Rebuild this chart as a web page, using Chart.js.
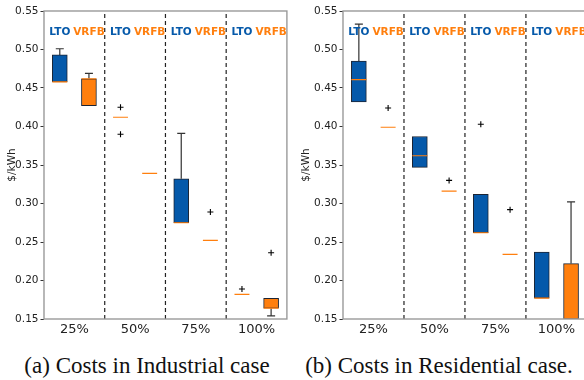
<!DOCTYPE html>
<html>
<head>
<meta charset="utf-8">
<script src="https://cdn.jsdelivr.net/npm/chart.js@4.4.1/dist/chart.umd.min.js"></script>
<style>
  html, body { margin: 0; padding: 0; background: #fff; width: 584px; height: 380px; overflow: hidden; }
  .panel { position: absolute; top: 0; height: 340px; }
  #p1 { left: 0; width: 292px; }
  #p2 { left: 292px; width: 300px; }
  .cap { position: absolute; top: 352px; width: 292px; text-align: center; font-family: "Liberation Serif", serif;
         font-size: 23px; line-height: 28px; color: #111; white-space: nowrap; }
</style>
</head>
<body>
<div class="panel" id="p1"><canvas id="c1" width="292" height="340"></canvas></div>
<div class="panel" id="p2"><canvas id="c2" width="300" height="340"></canvas></div>
<div class="cap" style="left:1px">(a) Costs in Industrial case</div>
<div class="cap" style="left:293px">(b) Costs in Residential case.</div>
<script>
// --- data: [lower whisker, Q1, median, Q3, upper whisker] per share ---
const groups = ['25%', '50%', '75%', '100%'];
const yTicks = [0.15, 0.20, 0.25, 0.30, 0.35, 0.40, 0.45, 0.50, 0.55];

const indLto = [[0.458, 0.458, 0.458, 0.493, 0.501], [0.412, 0.412, 0.412, 0.412, 0.412],
                [0.275, 0.275, 0.275, 0.332, 0.391], [0.182, 0.182, 0.182, 0.182, 0.182]];
const indLtoOut = [[], [0.425, 0.390], [], [0.189]];
const indVrfb = [[0.427, 0.427, 0.462, 0.462, 0.469], [0.339, 0.339, 0.339, 0.339, 0.339],
                 [0.252, 0.252, 0.252, 0.252, 0.252], [0.154, 0.164, 0.164, 0.177, 0.177]];
const indVrfbOut = [[], [], [0.289], [0.236]];

const resLto = [[0.432, 0.432, 0.461, 0.485, 0.533], [0.347, 0.347, 0.362, 0.387, 0.387],
                [0.262, 0.262, 0.262, 0.312, 0.312], [0.177, 0.177, 0.177, 0.237, 0.237]];
const resLtoOut = [[], [], [0.403], []];
const resVrfb = [[0.399, 0.399, 0.399, 0.399, 0.399], [0.316, 0.316, 0.316, 0.316, 0.316],
                 [0.234, 0.234, 0.234, 0.234, 0.234], [0.150, 0.150, 0.150, 0.222, 0.302]];
const resVrfbOut = [[0.424], [0.330], [0.292], []];

const BLUE = '#0559aa';
const ORANGE = '#ff7f0e';
const SHIFT = 0.24;      // box offset from group centre
const HALF_BOX = 0.123;  // half box width in axis units
const HALF_CAP = 0.066;

function series_datasets(stats, outliers, offset, color) {
    const boxes = [], whiskers = [], medians = [], fliers = [];
    stats.forEach(([lo, q1, med, q3, hi], i) => {
        const x = i + 1 + offset;
        if (q3 > q1) boxes.push({ x: x, y: [q1, q3] });
        if (hi > q3) {
            whiskers.push({ x: x, y: q3 }, { x: x, y: hi }, { x: x, y: null },
                          { x: x - HALF_CAP, y: hi }, { x: x + HALF_CAP, y: hi }, { x: x, y: null });
        }
        if (lo < q1) {
            whiskers.push({ x: x, y: q1 }, { x: x, y: lo }, { x: x, y: null },
                          { x: x - HALF_CAP, y: lo }, { x: x + HALF_CAP, y: lo }, { x: x, y: null });
        }
        medians.push({ x: x - HALF_BOX, y: med }, { x: x + HALF_BOX, y: med }, { x: x, y: null });
        outliers[i].forEach(v => fliers.push({ x: x, y: v }));
    });
    return [
        { type: 'bar', data: boxes, backgroundColor: color, borderColor: '#1c2433', borderWidth: 1,
          borderSkipped: false, barThickness: 15, grouped: false, order: 3 },
        { type: 'line', data: whiskers, borderColor: '#333', borderWidth: 1.2, pointRadius: 0,
          spanGaps: false, order: 4 },
        { type: 'line', data: medians, borderColor: ORANGE, borderWidth: 1.2, pointRadius: 0,
          spanGaps: false, order: 1 },
        { type: 'scatter', data: fliers, pointStyle: 'cross', pointRadius: 3, borderColor: '#000',
          borderWidth: 1.1, order: 0 }
    ];
}

const separators = [1.5, 2.5, 3.5].flatMap(x => [{ x: x, y: 0.15 }, { x: x, y: 0.55 }, { x: x, y: null }]);

const panel_plugin = {
    id: 'panelDecor',
    afterDraw(chart) {
        const { ctx, chartArea: a, scales: { x, y } } = chart;
        ctx.save();
        ctx.strokeStyle = '#9a9a9a';
        ctx.lineWidth = 1.4;
        ctx.strokeRect(a.left, a.top, a.right - a.left, a.bottom - a.top);
        ctx.font = 'bold 10.5px "DejaVu Sans"';
        ctx.textAlign = 'center';
        ctx.textBaseline = 'middle';
        const ty = y.getPixelForValue(0.523);
        groups.forEach((g, i) => {
            ctx.fillStyle = BLUE;
            ctx.fillText('LTO', x.getPixelForValue(i + 1 - SHIFT), ty);
            ctx.fillStyle = ORANGE;
            ctx.fillText('VRFB', x.getPixelForValue(i + 1 + SHIFT), ty);
        });
        ctx.restore();
    }
};

function draw_panel(canvas_id, lto, lto_out, vrfb, vrfb_out, axis_width, title_pad) {
    const ctx = document.getElementById(canvas_id).getContext('2d');
    return new Chart(ctx, {
        type: 'bar',
        data: {
            datasets: [
                ...series_datasets(lto, lto_out, -SHIFT, BLUE),
                ...series_datasets(vrfb, vrfb_out, SHIFT, ORANGE),
                { type: 'line', data: separators, borderColor: '#222', borderWidth: 1.2, borderDash: [4, 3],
                  pointRadius: 0, spanGaps: false, order: 5 }
            ]
        },
        options: {
            responsive: false,
            animation: false,
            events: [],
            layout: { padding: { top: 11, right: 5, left: 0, bottom: 0 } },
            plugins: { legend: { display: false }, tooltip: { enabled: false } },
            scales: {
                x: {
                    type: 'linear', min: 0.5, max: 4.5, offset: false,
                    grid: { display: false, drawTicks: false, offset: false },
                    border: { display: false },
                    afterBuildTicks: s => { s.ticks = groups.map((g, i) => ({ value: i + 1 })); },
                    afterFit: s => { s.height = 21; },
                    ticks: { padding: 3, color: '#222', font: { family: 'DejaVu Sans', size: 13 },
                             callback: v => groups[v - 1], maxRotation: 0 }
                },
                y: {
                    type: 'linear', min: 0.15, max: 0.55,
                    grid: { display: true, drawOnChartArea: false, drawTicks: true, tickLength: 3.5, color: '#333' },
                    border: { display: false },
                    afterBuildTicks: s => { s.ticks = yTicks.map(v => ({ value: v })); },
                    afterFit: s => { s.width = axis_width; },
                    ticks: { padding: 2, color: '#222', font: { family: 'DejaVu Sans', size: 10.5 },
                             callback: v => v.toFixed(2) },
                    title: { display: true, text: '$/kWh', color: '#222', padding: { top: title_pad },
                             font: { family: 'DejaVu Sans', size: 10.5 } }
                }
            }
        },
        plugins: [panel_plugin]
    });
}

draw_panel('c1', indLto, indLtoOut, indVrfb, indVrfbOut, 44, 6);
draw_panel('c2', resLto, resLtoOut, resVrfb, resVrfbOut, 51, 8);
</script>
</body>
</html>
